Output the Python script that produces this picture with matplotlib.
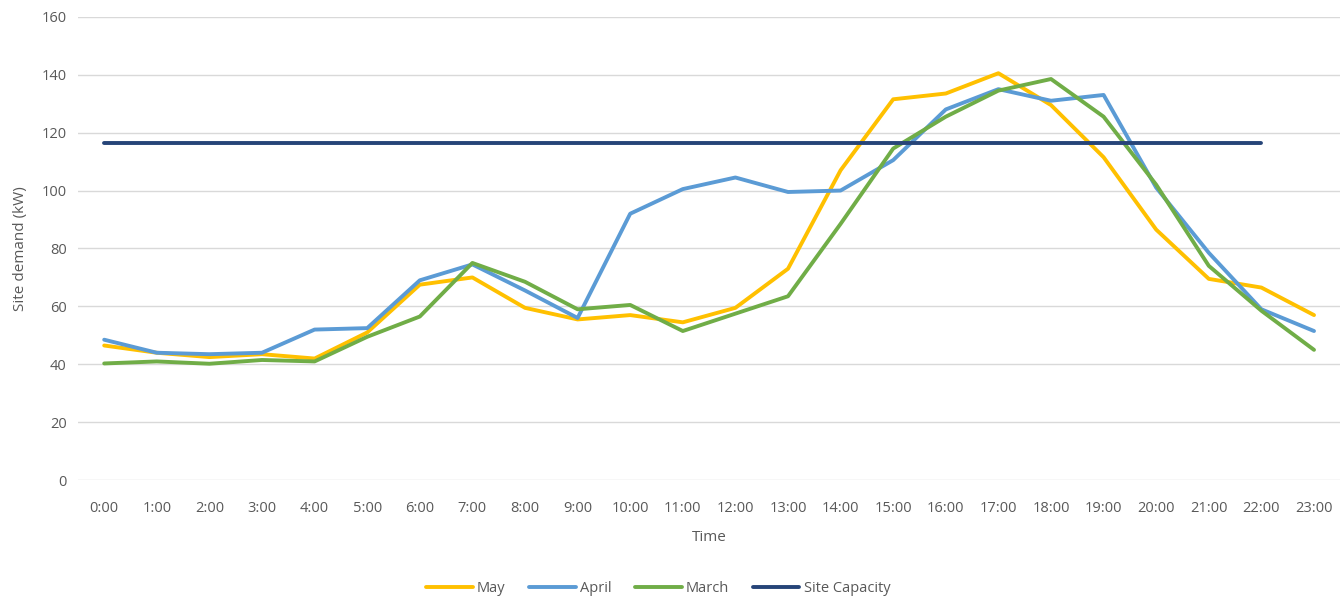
import numpy as np
import matplotlib.pyplot as plt

hours = [f"{h}:00" for h in range(24)]

may = [46.5, 44, 42.5, 43.5, 42, 51, 67.5, 70, 59.5, 55.5, 57, 54.5,
       59.5, 73, 107, 131.5, 133.5, 140.5, 129.5, 111.5, 86.5, 69.5, 66.5, 57]
april = [48.5, 44, 43.5, 44, 52, 52.5, 69, 74.5, 65.5, 56, 92, 100.5,
         104.5, 99.5, 100, 110.5, 128, 135, 131, 133, 101, 78.5, 59, 51.5]
march = [40.3, 41, 40.2, 41.5, 41, 49.5, 56.5, 75, 68.5, 59, 60.5, 51.5,
         57.5, 63.5, 88.5, 114.5, 125.5, 134.5, 138.5, 125.5, 102, 74, 58.5, 45]
# capacity line runs 0:00 to 22:00
site_capacity = [116.5] * 23

plt.rcParams["font.family"] = ["Open Sans", "DejaVu Sans"]
text_color = "#595959"

fig = plt.figure(figsize=(13.43, 5.98), dpi=100)
ax = fig.add_axes([0.058, 0.197, 0.94, 0.775])

x = np.arange(len(hours))
lw = 2.8
ax.plot(x, may, color="#FFC000", lw=lw, label="May", solid_capstyle="round")
ax.plot(x, april, color="#5B9BD5", lw=lw, label="April", solid_capstyle="round")
ax.plot(x, march, color="#70AD47", lw=lw, label="March", solid_capstyle="round")
ax.plot(x[:len(site_capacity)], site_capacity, color="#264478", lw=lw,
        label="Site Capacity", solid_capstyle="round")

ax.set_xlim(-0.5, 23.5)
ax.set_ylim(0, 160)
ax.set_yticks(range(0, 161, 20))
ax.set_xticks(x)
ax.set_xticklabels(hours)
ax.grid(axis="y", color="#D9D9D9", lw=1)
ax.set_axisbelow(True)
for side in ["top", "right", "left", "bottom"]:
    ax.spines[side].set_visible(False)
ax.tick_params(length=0, labelsize=10.5, colors=text_color)
ax.tick_params(axis="x", pad=15)
ax.tick_params(axis="y", pad=8)

ax.set_xlabel("Time", fontsize=11, color=text_color, labelpad=10)
ax.set_ylabel("Site demand (kW)", fontsize=11, color=text_color, labelpad=10)

fig.legend(loc="lower center", bbox_to_anchor=(0.49, -0.018), ncol=4,
           frameon=False, fontsize=10.5, labelcolor=text_color,
           handlelength=3.2, handletextpad=0.3, columnspacing=1.6)

fig.savefig("out.png", dpi=100)
